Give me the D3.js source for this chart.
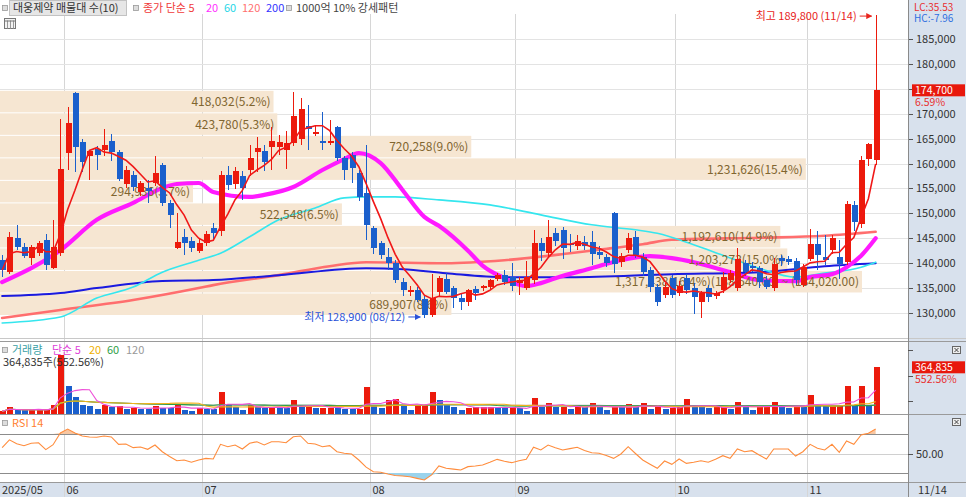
<!DOCTYPE html>
<html>
<head>
<meta charset="utf-8">
<script src="https://cdn.jsdelivr.net/npm/d3@7/dist/d3.min.js"></script>
<style>
  body { margin: 0; background: #fff; }
  svg text { font-family: "Noto Sans CJK KR", "Noto Sans", sans-serif; font-size: 11px; }
</style>
</head>
<body>
<div id="chart"></div>
<script>
// trading days, 2025/05/20 .. 2025/11/14
const dates = [
  "2025/05/20","2025/05/21","2025/05/22","2025/05/23","2025/05/26","2025/05/27","2025/05/28","2025/05/29","2025/05/30",
  "2025/06/02","2025/06/04","2025/06/05","2025/06/09","2025/06/10","2025/06/11","2025/06/12","2025/06/13","2025/06/16","2025/06/17",
  "2025/06/18","2025/06/19","2025/06/20","2025/06/23","2025/06/24","2025/06/25","2025/06/26","2025/06/27","2025/06/30",
  "2025/07/01","2025/07/02","2025/07/03","2025/07/04","2025/07/07","2025/07/08","2025/07/09","2025/07/10","2025/07/11","2025/07/14",
  "2025/07/15","2025/07/16","2025/07/17","2025/07/18","2025/07/21","2025/07/22","2025/07/23","2025/07/24","2025/07/25","2025/07/28",
  "2025/07/29","2025/07/30","2025/07/31",
  "2025/08/01","2025/08/04","2025/08/05","2025/08/06","2025/08/07","2025/08/08","2025/08/11","2025/08/12","2025/08/13","2025/08/14",
  "2025/08/18","2025/08/19","2025/08/20","2025/08/21","2025/08/22","2025/08/25","2025/08/26","2025/08/27","2025/08/28","2025/08/29",
  "2025/09/01","2025/09/02","2025/09/03","2025/09/04","2025/09/05","2025/09/08","2025/09/09","2025/09/10","2025/09/11","2025/09/12",
  "2025/09/15","2025/09/16","2025/09/17","2025/09/18","2025/09/19","2025/09/22","2025/09/23","2025/09/24","2025/09/25","2025/09/26",
  "2025/09/29","2025/09/30",
  "2025/10/01","2025/10/02","2025/10/10","2025/10/13","2025/10/14","2025/10/15","2025/10/16","2025/10/17","2025/10/20","2025/10/21",
  "2025/10/22","2025/10/23","2025/10/24","2025/10/27","2025/10/28","2025/10/29","2025/10/30","2025/10/31",
  "2025/11/03","2025/11/04","2025/11/05","2025/11/06","2025/11/07","2025/11/10","2025/11/11","2025/11/12","2025/11/13","2025/11/14"
];

const opens = [
  140600,138200,145000,143200,141000,142000,144600,139000,142000,162100,
  174200,164300,161500,163000,162700,164500,162300,155900,157700,154300,
  155000,156100,159700,152100,143000,145300,144500,142500,144000,147000,
  146500,157700,155900,157500,158700,162300,162500,163300,163300,162700,
  164100,165000,167500,166000,164500,164100,167300,161100,161700,158100,
  154100,147000,144000,141200,140000,136200,134200,134600,132800,129500,
  134200,136800,135000,133000,132200,134800,135000,135200,136800,137600,
  137200,136000,135000,136600,144000,142000,146000,146700,143900,143400,
  144200,144300,142200,141200,150000,140200,142600,145300,141200,138600,
  135200,133600,137000,134000,137000,135000,132200,135000,133400,134600,
  136600,135000,140000,139400,139000,136600,135000,141000,140800,140400,
  135600,140800,143900,141200,142600,141200,140200,151700,147900,160900,
  160700
];
const highs = [
  141600,146300,147700,144000,143600,144400,145900,148700,169000,171400,
  174400,165000,162800,163500,167000,166000,162800,159500,158500,156500,
  156700,161500,160200,152600,150000,146800,145200,145000,146400,148000,
  158500,159500,159300,158500,163700,165300,163700,167300,165700,166500,
  174400,173200,171800,167500,170400,168800,167500,161600,162300,158700,
  163700,147500,144500,143000,140600,137000,135500,135300,133500,137800,
  137500,138000,135500,134000,134800,135400,135600,136800,138000,138600,
  140000,137200,140400,146700,145000,148700,147000,147200,145800,145600,
  145400,146500,143500,141800,150300,142000,146000,146500,142000,139200,
  135800,136000,137600,136400,137800,136000,134400,135600,134500,138200,
  138600,143000,140600,140200,139500,137400,141000,141600,141400,141000,
  139800,146800,146500,145600,145600,144600,152400,152500,161500,164200,
  189800
];
const lows = [
  137200,137800,142600,141000,139600,141400,138600,138800,141500,158700,
  158300,158300,156700,158700,161500,160500,156500,155000,154500,153500,
  152100,155500,151500,147000,142800,141600,142200,142000,143500,144600,
  145500,154600,154900,152700,157500,158300,158500,158700,161700,158900,
  163500,163700,162700,165500,162700,163700,160500,156700,156100,152500,
  144700,141800,140800,138600,136000,133500,133400,132200,128900,129200,
  133500,133800,131000,130600,131400,132600,134400,134600,136400,135600,
  134400,133600,134600,135800,140500,141200,143500,140800,142200,142600,
  142600,139600,140800,139200,138000,139200,142000,141000,137500,134200,
  131500,133000,133000,133400,133800,129800,129000,132200,132800,134000,
  136000,134400,137400,138200,135000,134800,134400,139400,139600,135600,
  135200,140400,138600,139600,141800,136800,139600,146500,147000,159600,
  159800
];
const closes = [
  138600,145200,143200,141400,143200,144000,139600,143200,158900,168100,
  163300,160300,162500,161700,163700,162300,156900,158700,155300,156100,
  154500,158100,152100,149700,144200,144100,143100,144000,145800,146000,
  157700,155700,158500,155100,161100,163100,160300,164500,164300,164100,
  169600,171000,166900,166400,164100,164600,161100,158700,159100,153300,
  147700,143000,141600,140000,136600,134600,134600,132600,129500,133000,
  137000,134200,133000,132200,134600,134000,135400,136600,137600,136200,
  135400,136600,137200,144000,142400,145300,144500,143000,143700,144400,
  143400,141800,141600,140000,139800,141500,145000,141600,138200,135200,
  132200,135200,133600,135400,134600,133200,134000,133200,134000,137200,
  138000,140800,138200,139000,136200,135200,139800,140400,140200,136600,
  139200,143900,141600,140600,145100,139800,151900,148300,160800,163900,
  174700
];
const volumes = [
  21000,52000,31000,30000,33000,34000,34500,68000,463000,216000,
  133000,73000,60000,41000,68000,52000,60000,41000,43000,41000,
  40000,65000,47000,46000,78000,34000,26000,47000,41000,40000,
  172000,78000,52000,34000,73000,52000,47000,48000,47000,46000,
  112000,52000,68000,47000,48000,49000,48000,41000,40000,41000,
  211000,73000,47000,112000,119000,60000,34000,68000,73000,172000,
  112000,68000,52000,34000,47000,52000,53000,54000,47000,46000,
  52000,47000,26000,125000,52000,88000,52000,53000,41000,68000,
  52000,88000,52000,34000,52000,51000,78000,52000,83000,41000,
  52000,41000,47000,52000,119000,52000,51000,50000,52000,53000,
  41000,96000,60000,34000,52000,53000,96000,52000,47000,60000,
  52000,151000,60000,59000,60000,68000,216000,68000,216000,68000,
  364835
];
const rsi14 = [
  56,64,60,58,60.5,61,54,59,71,75,
  71,68,67,66.6,68,67,59.4,59.7,56,56.7,
  54.3,58.7,51.8,47,42.6,43.3,41,43.3,45,44.4,
  59.4,57,58.7,54.6,60.5,62.1,58.7,62.1,62.1,61,
  67.2,68,60.5,59.7,57,58,51.8,50.2,49.5,43.3,
  36,31.3,30.7,29,27.5,27,26.2,24.5,22.8,28,
  37.2,34.8,34,33.1,36.5,37.2,38.2,41,44,42,
  40.6,42.5,44,56.4,53.6,58.7,56,53.6,55,56.4,
  53,50.8,50.2,48,45,49.5,57,50,43.3,39,
  34.8,42.3,38.9,44.4,39.9,41,42.6,41,44,47.8,
  45,54.6,51.8,52.9,48.5,44.4,54.6,54.6,54.6,47.4,
  51.8,59.4,55.3,53.6,59.4,51.2,62.8,59.4,69,70.7,
  75.1
];

// longer moving averages: [day index, price]
const ma20Pts = [[0,136200],[8,142600],[13,148700],[18,152100],[22,155100],[24,155900],[27,156100],[29,154300],
  [34,153300],[36,153700],[40,155300],[44,158700],[47,160900],[49,162100],[52,160100],[55,154700],[58,149300],
  [60,147500],[64,142500],[66,139500],[69,137000],[72,135400],[74,136000],[76,137000],[81,139000],[85,140600],
  [89,141400],[92,141000],[95,140200],[100,138200],[104,136600],[109,136400],[111,137200],[114,137800],
  [116,139200],[118,141500],[120,145000]];
const ma60Pts = [[0,128000],[8,129200],[13,133000],[18,135200],[22,138200],[27,140600],[30,142000],[34,145300],
  [38,148700],[43,151100],[47,153100],[50,153300],[54,153300],[60,152700],[67,151700],[74,149700],[81,147700],
  [87,146700],[90,146000],[95,143700],[99,141600],[104,139000],[109,137200],[113,138000],[118,139200],[120,140200]];
const ma120Pts = [[0,129000],[8,130600],[18,132600],[27,135000],[29,135600],[38,137600],[45,139400],[50,140200],
  [61,140000],[69,140600],[78,142000],[82,142700],[88,143800],[92,144700],[104,145100],[113,145500],[120,146300]];
const ma200Pts = [[0,133400],[8,134000],[13,135000],[22,136400],[29,136600],[38,137600],[50,139000],[55,138800],
  [61,138000],[69,137200],[78,137200],[92,137800],[104,138200],[113,139400],[120,140000]];

// 매물대 volumes, lowest price band first
const bandVolumes = [689907,1317438,1203273,1192610,522548,294936,1231626,720258,423780,418032];

const priceTicks = d3.range(130000, 185001, 5000);
const volumeTicks = [100000, 300000, 500000];

(function () {
  const width = 966, height = 497;
  const plotRight = 908;
  const pTop = 14, pBottom = 338, vTop = 342, vBottom = 414, rTop = 415, rBottom = 482, axTop = 483;
  const axisBg = "#d8e1ed";
  const upColor = "#ec1a0c", downColor = "#1a5fcc";
  const fmt = d3.format(",");

  const svg = d3.select("#chart").append("svg")
    .attr("width", width).attr("height", height);

  const defs = svg.append("defs");
  [["clipP", pTop, pBottom], ["clipV", vTop, vBottom], ["clipR", rTop, rBottom]].forEach(([id, t, b]) => {
    defs.append("clipPath").attr("id", id).append("rect")
      .attr("x", 0).attr("y", t).attr("width", plotRight).attr("height", b - t);
  });
  defs.append("marker").attr("id", "arrR").attr("viewBox", "0 0 10 10")
    .attr("refX", 9).attr("refY", 5).attr("markerWidth", 6).attr("markerHeight", 6)
    .attr("orient", "auto").append("path").attr("d", "M0,0L10,5L0,10z").attr("fill", "context-stroke");

  // Scales
  const x = d3.scaleBand().domain(dates).range([-1.5, 879.3]).paddingInner(0.22).paddingOuter(0.11);
  const bw = x.bandwidth();
  const cx = (i) => x(dates[i]) + bw / 2;
  const yP = d3.scaleLinear().domain([130000, 185000]).range([313, 39]);
  const yV = d3.scaleLinear().domain([0, 550000]).range([vBottom, 343.6]);
  const yR = d3.scaleLinear().domain([30, 70]).range([473, 434]);

  const last = closes.length - 1;
  const ty = yP(closes[last]);

  // backgrounds
  svg.append("rect").attr("width", width).attr("height", height).attr("fill", "#fff");
  svg.append("rect").attr("x", plotRight).attr("y", 0).attr("width", width - plotRight).attr("height", height).attr("fill", axisBg);
  svg.append("rect").attr("x", 0).attr("y", axTop).attr("width", width).attr("height", height - axTop).attr("fill", axisBg);

  // month grid
  const monthStarts = d3.range(1, dates.length).filter(i => dates[i].slice(5, 7) !== dates[i - 1].slice(5, 7));
  const gridX = (i) => Math.round(cx(i) - x.step() / 2) + 0.5;
  svg.append("g").selectAll("line").data(monthStarts).join("line")
    .attr("x1", gridX).attr("x2", gridX).attr("y1", pTop).attr("y2", height)
    .attr("stroke", "#d6d6d6");

  // price grid + axis
  svg.append("g").selectAll("line").data(priceTicks).join("line")
    .attr("x1", 0).attr("x2", plotRight).attr("y1", d => Math.round(yP(d)) + 0.5).attr("y2", d => Math.round(yP(d)) + 0.5)
    .attr("stroke", "#e3e3e3");
  const pAxis = svg.append("g").attr("transform", `translate(${plotRight},0)`);
  pAxis.selectAll("line").data(priceTicks).join("line")
    .attr("x1", 0).attr("x2", 5).attr("y1", d => Math.round(yP(d)) + 0.5).attr("y2", d => Math.round(yP(d)) + 0.5)
    .attr("stroke", "#555");
  // the last-price tag sits on top of the tick label it covers
  pAxis.selectAll("text").data(priceTicks.filter(d => Math.abs(yP(d) - ty) > 9)).join("text")
    .attr("x", 8).attr("y", d => yP(d) + 4).attr("fill", "#333").text(fmt);

  // panel separators
  const sep = [[338.5, "#c8c8c8"], [341.5, "#9a9a9a"], [414.5, "#9a9a9a"], [482.5, "#9a9a9a"]];
  svg.append("g").selectAll("line").data(sep).join("line")
    .attr("x1", 0).attr("x2", width).attr("y1", d => d[0]).attr("y2", d => d[0]).attr("stroke", d => d[1]);
  svg.append("line").attr("x1", plotRight + 0.5).attr("x2", plotRight + 0.5).attr("y1", 0).attr("y2", height)
    .attr("stroke", "#8a8a8a");

  // ---- price panel ----
  const gp = svg.append("g").attr("clip-path", "url(#clipP)");

  // 매물대 bands
  const lowC = d3.min(closes), highC = d3.max(closes);
  const bandStep = (highC - lowC) / bandVolumes.length;
  const bandTotal = d3.sum(bandVolumes);
  const bandW = d3.scaleLinear().domain([0, d3.max(bandVolumes)]).range([0, 862]);
  const bands = bandVolumes.map((v, k) => ({ v, lo: lowC + k * bandStep, hi: lowC + (k + 1) * bandStep }));
  gp.append("g").selectAll("rect").data(bands).join("rect")
    .attr("x", 0).attr("width", d => bandW(d.v))
    .attr("y", d => yP(d.hi) + 0.5).attr("height", d => yP(d.lo) - yP(d.hi) - 1)
    .attr("fill", "#f6e6d2");

  // long moving averages
  const maLine = d3.line().x(d => cx(d[0])).y(d => yP(d[1])).curve(d3.curveMonotoneX);
  const maDefs = [
    [ma120Pts, "#ff6e6e", 2.6],
    [ma200Pts, "#1a1ae0", 2],
    [ma60Pts, "#35e6ee", 1.6],
    [ma20Pts, "#ff1aff", 4.2]
  ];
  maDefs.forEach(([pts, c, w]) => {
    gp.append("path").attr("d", maLine(pts)).attr("fill", "none").attr("stroke", c)
      .attr("stroke-width", w).attr("stroke-linecap", "round");
  });

  // band labels
  const maxBand = d3.maxIndex(bandVolumes);
  const f2 = d3.format(",.2f");
  gp.append("g").selectAll("text").data(bands).join("text")
    .attr("x", d => bandW(d.v) - 3)
    .attr("y", d => (yP(d.hi) + yP(d.lo)) / 2 + 4.5)
    .attr("text-anchor", "end").attr("fill", "#80652f").style("font-size", "12px")
    .text((d, k) => fmt(d.v) + "(" + (d.v / bandTotal * 100).toFixed(1) + "%)" +
      (k === maxBand ? "(" + f2(d.hi) + ") ~ (" + f2(d.lo) + ")" : ""));

  // candles
  const idx = d3.range(dates.length);
  const cColor = i => closes[i] >= opens[i] ? upColor : downColor;
  const gc = gp.append("g").attr("shape-rendering", "crispEdges");
  gc.selectAll("line").data(idx).join("line")
    .attr("x1", i => Math.round(cx(i)) + 0.5).attr("x2", i => Math.round(cx(i)) + 0.5)
    .attr("y1", i => yP(highs[i])).attr("y2", i => yP(lows[i]))
    .attr("stroke", cColor);
  gc.selectAll("rect").data(idx).join("rect")
    .attr("x", i => Math.round(cx(i)) - 2.5).attr("width", 6)
    .attr("y", i => yP(Math.max(opens[i], closes[i])))
    .attr("height", i => Math.max(1, Math.abs(yP(opens[i]) - yP(closes[i]))))
    .attr("fill", cColor);

  // MA5 from closes
  const ma5 = closes.map((_, i) => d3.mean(closes.slice(Math.max(0, i - 4), i + 1)));
  gp.append("path").attr("d", d3.line().x((d, i) => cx(i)).y(d => yP(d))(ma5))
    .attr("fill", "none").attr("stroke", "#f01818").attr("stroke-width", 1.6);

  // high / low markers
  const hiI = d3.maxIndex(highs), loI = d3.minIndex(lows);
  const hy = yP(highs[hiI]) + 1;
  svg.append("text").attr("x", cx(hiI) - 19).attr("y", hy + 4).attr("text-anchor", "end")
    .attr("fill", "#e8241c").text(`최고 ${fmt(highs[hiI])} (${dates[hiI].slice(5)})`);
  svg.append("line").attr("x1", cx(hiI) - 16).attr("x2", cx(hiI) - 4).attr("y1", hy).attr("y2", hy)
    .attr("stroke", "#e8241c").attr("marker-end", "url(#arrR)");
  const ly = yP(lows[loI]) - 1.5;
  svg.append("text").attr("x", cx(loI) - 19).attr("y", ly + 4).attr("text-anchor", "end")
    .attr("fill", "#2a52d8").text(`최저 ${fmt(lows[loI])} (${dates[loI].slice(5)})`);
  svg.append("line").attr("x1", cx(loI) - 16).attr("x2", cx(loI) - 4).attr("y1", ly).attr("y2", ly)
    .attr("stroke", "#2a52d8").attr("marker-end", "url(#arrR)");

  // last price tag
  const chg = (closes[last] / closes[last - 1] - 1) * 100;
  svg.append("rect").attr("x", plotRight + 4).attr("y", ty - 6).attr("width", 53).attr("height", 12).attr("fill", "#e8180c");
  svg.append("text").attr("x", plotRight + 7).attr("y", ty + 4).attr("fill", "#fff").style("font-size", "10.5px").text(fmt(closes[last]));
  svg.append("text").attr("x", plotRight + 7).attr("y", ty + 16).attr("fill", "#e83030").style("font-size", "10.5px").text(chg.toFixed(2) + "%");
  svg.append("text").attr("x", plotRight + 6).attr("y", 11).attr("fill", "#e83030").style("font-size", "10px").text("LC:35.53");
  svg.append("text").attr("x", plotRight + 6).attr("y", 22).attr("fill", "#2f6fe0").style("font-size", "10px").text("HC:-7.96");

  // top legend
  const icon = (g, x0, y0) => g.append("rect").attr("x", x0).attr("y", y0).attr("width", 5).attr("height", 5)
    .attr("fill", "#ddd").attr("stroke", "#999").attr("stroke-width", 0.8);
  const leg = svg.append("g");
  icon(leg, 2.5, 5.5);
  leg.append("rect").attr("x", 9.5).attr("y", 0.5).attr("width", 117).attr("height", 15)
    .attr("fill", "#e6e6e6").attr("stroke", "#c2c2c2");
  [["대웅제약 매물대 수(10)", 13, "#333"], ["종가 단순 5", 143, "#f03a3a"], ["20", 206, "#ff30ff"],
   ["60", 224, "#1fd6e6"], ["120", 242, "#ff7070"], ["200", 266, "#3434ff"], ["1000억 10% 강세패턴", 296, "#444"]]
    .forEach(([t, x0, c]) => leg.append("text").attr("x", x0).attr("y", 12).attr("fill", c).text(t));
  icon(leg, 133.5, 5.5);
  icon(leg, 286.5, 5.5);
  // small grid icon
  const gi = svg.append("g").attr("transform", "translate(4.5,18.5)");
  gi.append("rect").attr("width", 11).attr("height", 10).attr("fill", "#f3f3f3").attr("stroke", "#777");
  [3, 6, 9].forEach(v => gi.append("line").attr("x1", v).attr("x2", v).attr("y1", 2).attr("y2", 10).attr("stroke", "#999"));
  gi.append("line").attr("x1", 0).attr("x2", 11).attr("y1", 2.5).attr("y2", 2.5).attr("stroke", "#777");

  // ---- volume panel ----
  const gv = svg.append("g").attr("clip-path", "url(#clipV)").attr("shape-rendering", "crispEdges");
  const vColor = i => (i > 0 && volumes[i] < volumes[i - 1]) ? downColor : upColor;
  gv.selectAll("rect").data(idx).join("rect")
    .attr("x", i => Math.round(cx(i)) - 2.5).attr("width", 6)
    .attr("y", i => yV(volumes[i])).attr("height", i => vBottom - yV(volumes[i]))
    .attr("fill", vColor);
  const sma = (arr, n) => arr.map((_, i) => d3.mean(arr.slice(Math.max(0, i - n + 1), i + 1)));
  const vLine = d3.line().x((d, i) => cx(i)).y(d => yV(d));
  [[120, "#aaaaaa"], [60, "#2f9e46"], [20, "#f2b21a"], [5, "#ee50d8"]].forEach(([n, c]) => {
    svg.append("path").attr("clip-path", "url(#clipV)").attr("d", vLine(sma(volumes, n)))
      .attr("fill", "none").attr("stroke", c).attr("stroke-width", 1.1);
  });
  const vl = svg.append("g");
  icon(vl, 2.5, 347.5);
  [["거래량", 12, "#3a9fa5"], ["단순 5", 52, "#e040d8"], ["20", 89, "#f0b000"], ["60", 107, "#2f9e46"], ["120", 126, "#999"]]
    .forEach(([t, x0, c]) => vl.append("text").attr("x", x0).attr("y", 354).attr("fill", c).text(t));
  vl.append("text").attr("x", 3).attr("y", 366).attr("fill", "#333").text(fmt(volumes[last]) + "주(552.56%)");
  svg.append("g").selectAll("line").data(volumeTicks).join("line")
    .attr("x1", plotRight).attr("x2", plotRight + 5).attr("y1", d => Math.round(yV(d)) + 0.5).attr("y2", d => Math.round(yV(d)) + 0.5)
    .attr("stroke", "#555");
  const vy = yV(volumes[last]);
  svg.append("rect").attr("x", plotRight + 4).attr("y", vy - 6).attr("width", 53).attr("height", 12).attr("fill", "#e8180c");
  svg.append("text").attr("x", plotRight + 7).attr("y", vy + 4).attr("fill", "#fff").style("font-size", "10.5px").text(fmt(volumes[last]));
  svg.append("text").attr("x", plotRight + 7).attr("y", vy + 16).attr("fill", "#e83030").style("font-size", "10.5px").text("552.56%");

  // ---- RSI panel ----
  const gr = svg.append("g").attr("clip-path", "url(#clipR)");
  [[70, "#8c8c8c"], [50, "#d0d0d0"], [30, "#8c8c8c"]].forEach(([v, c]) => {
    gr.append("line").attr("x1", 0).attr("x2", plotRight).attr("y1", Math.round(yR(v)) + 0.5).attr("y2", Math.round(yR(v)) + 0.5)
      .attr("stroke", c);
  });
  gr.append("path").attr("d", d3.area().x((d, i) => cx(i)).y0(yR(70)).y1(d => yR(Math.max(d, 70)))(rsi14))
    .attr("fill", "#f8c7a2");
  gr.append("path").attr("d", d3.area().x((d, i) => cx(i)).y0(yR(30)).y1(d => yR(Math.min(d, 30)))(rsi14))
    .attr("fill", "#9ad3ec");
  gr.append("path").attr("d", d3.line().x((d, i) => cx(i)).y(d => yR(d))(rsi14))
    .attr("fill", "none").attr("stroke", "#ff8c3c").attr("stroke-width", 1.1);
  const rl = svg.append("g");
  icon(rl, 2.5, 420.5);
  rl.append("text").attr("x", 12).attr("y", 427).attr("fill", "#ff8030").text("RSI 14");
  svg.append("line").attr("x1", plotRight).attr("x2", plotRight + 5).attr("y1", Math.round(yR(50)) + 0.5).attr("y2", Math.round(yR(50)) + 0.5)
    .attr("stroke", "#555");
  svg.append("text").attr("x", plotRight + 8).attr("y", yR(50) + 4).attr("fill", "#333").text("50.00");

  // panel close icons
  [346, 418].forEach(y0 => {
    const b = svg.append("g").attr("transform", `translate(952.5,${y0 + 0.5})`);
    b.append("rect").attr("width", 8).attr("height", 7).attr("fill", "#eee").attr("stroke", "#666");
    b.append("path").attr("d", "M2,1.5L6,5.5M6,1.5L2,5.5").attr("stroke", "#444");
  });

  // ---- x axis labels ----
  const xa = svg.append("g");
  xa.append("text").attr("x", 2).attr("y", 494).attr("fill", "#333").text(dates[0].slice(0, 7));
  xa.selectAll("text.m").data(monthStarts).join("text").attr("class", "m")
    .attr("x", i => gridX(i) + 2).attr("y", 494).attr("fill", "#333").text(i => dates[i].slice(5, 7));
  xa.append("text").attr("x", plotRight + 10).attr("y", 494).attr("fill", "#333").text(dates[last].slice(5));
})();
</script>
</body>
</html>
